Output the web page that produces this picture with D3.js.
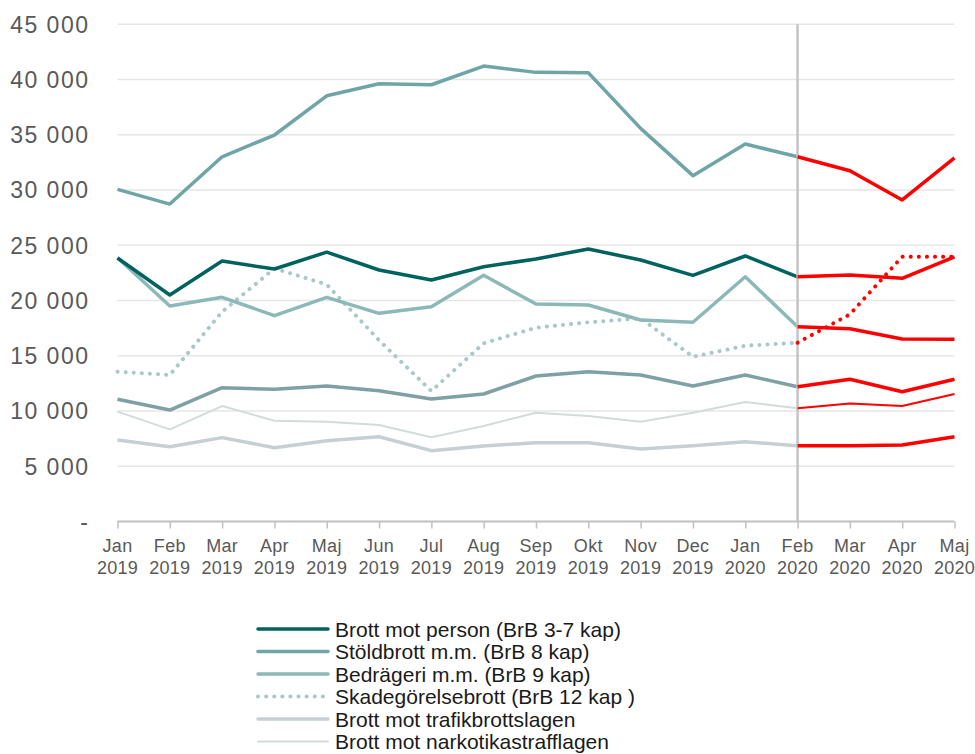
<!DOCTYPE html>
<html>
<head>
<meta charset="utf-8">
<script src="https://cdn.jsdelivr.net/npm/d3@7"></script>
<style>
  html, body { margin: 0; padding: 0; background: #fff; }
  svg { display: block; font-family: "Liberation Sans", Arial, Helvetica, sans-serif; }
</style>
</head>
<body>
<svg id="chart" width="975" height="754"></svg>
<script>
// ---------- DATA ----------
const months = ["Jan 2019","Feb 2019","Mar 2019","Apr 2019","Maj 2019","Jun 2019","Jul 2019","Aug 2019",
                "Sep 2019","Okt 2019","Nov 2019","Dec 2019","Jan 2020","Feb 2020","Mar 2020","Apr 2020","Maj 2020"];
const splitMonth = "Feb 2020";
const yTicks = [0, 5000, 10000, 15000, 20000, 25000, 30000, 35000, 40000, 45000];

const personValues   = [23850,20500,23570,22850,24380,22760,21860,23060,23760,24660,23670,22280,24030,22150,22300,22010,23960];
const stoldValues    = [30060,28730,33010,34980,38530,39620,39530,41220,40650,40620,35580,31300,34160,33010,31750,29100,32920];
const bedrageriValues= [23870,19500,20290,18630,20290,18840,19440,22280,19680,19590,18240,18030,22150,17630,17450,16520,16490];
const skadeValues    = [13560,13260,18990,22900,21450,16400,11810,16130,17540,18030,18390,14910,15910,16180,18750,23960,23960];
const ovrigaValues   = [11060,10090,12110,11960,12260,11840,11090,11540,13170,13560,13260,12260,13260,12200,12870,11750,12870];
const narkValues     = [ 9940, 8340,10450, 9120, 9030, 8730, 7620, 8640, 9850, 9550, 9030, 9850,10810,10240,10690,10450,11540];
const trafikValues   = [ 7380, 6770, 7590, 6680, 7310, 7670, 6410, 6830, 7130, 7130, 6560, 6860, 7220, 6860, 6860, 6920, 7670];

const seriesNames = ["Brott mot person (BrB 3-7 kap)","Stöldbrott m.m. (BrB 8 kap)","Bedrägeri m.m. (BrB 9 kap)",
                     "Skadegörelsebrott (BrB 12 kap )","Brott mot trafikbrottslagen","Brott mot narkotikastrafflagen"];

// ---------- STYLES ----------
const series = [
  {name: null,            values: ovrigaValues,    color: "#7fa0a4", width: 3.5, dotted: false},
  {name: seriesNames[5],  values: narkValues,      color: "#d2dcd9", width: 2,   dotted: false},
  {name: seriesNames[4],  values: trafikValues,    color: "#c6d0d4", width: 3.5, dotted: false},
  {name: seriesNames[3],  values: skadeValues,     color: "#a9c8c8", width: 4,   dotted: true},
  {name: seriesNames[2],  values: bedrageriValues, color: "#8db8b8", width: 3.5, dotted: false},
  {name: seriesNames[1],  values: stoldValues,     color: "#6fa5a7", width: 3.5, dotted: false},
  {name: seriesNames[0],  values: personValues,    color: "#00625f", width: 3.5, dotted: false}
];
const legendOrder = [6,5,4,3,2,1];

const svg = d3.select("#chart");
const x = d3.scalePoint().domain(months).range([117.5, 954.5]);
const y = d3.scaleLinear().domain([0, 45000]).range([521.5, 24.3]);

// gridlines
svg.append("g").selectAll("line").data(yTicks.filter(d => d > 0)).join("line")
  .attr("x1", x(months[0])).attr("x2", x(months[months.length-1]))
  .attr("y1", d => y(d)).attr("y2", d => y(d))
  .attr("stroke", "#e6e6e6").attr("stroke-width", 1.5);

// y labels
svg.append("g").selectAll("text").data(yTicks).join("text")
  .attr("x", 89.5).attr("y", d => y(d)).attr("dy", "0.36em")
  .attr("text-anchor", "end")
  .attr("font-size", 23).attr("letter-spacing", 1.5)
  .attr("fill", "#595959")
  .text(d => d === 0 ? "-" : d3.format(",")(d).replace(/,/g, " "));

// x axis
const xAxis = d3.axisBottom(x).tickSize(7).tickFormat("");
const gx = svg.append("g").attr("transform", `translate(0,${y(0)})`).call(xAxis);
gx.select(".domain").attr("stroke", "#c0c0c0").attr("stroke-width", 2)
  .attr("d", `M${x(months[0])},0H${x(months[months.length-1])}`);
gx.selectAll(".tick line").attr("stroke", "#c0c0c0").attr("stroke-width", 1.5);

const xl = svg.append("g").selectAll("text").data(months).join("text")
  .attr("text-anchor", "middle").attr("font-size", 18).attr("fill", "#595959")
  .attr("letter-spacing", 0.3);
xl.append("tspan").attr("x", d => x(d)).attr("y", 552).text(d => d.split(" ")[0]);
xl.append("tspan").attr("x", d => x(d)).attr("y", 574).text(d => d.split(" ")[1]);

// lines
const splitIdx = months.indexOf(splitMonth);
const line = d3.line().x(d => x(d.m)).y(d => y(d.v));
function styleLine(sel, s, color) {
  sel.attr("fill", "none").attr("stroke", color).attr("stroke-width", s.width)
    .attr("stroke-linejoin", "round");
  if (s.dotted) sel.attr("stroke-dasharray", "0.1 8").attr("stroke-linecap", "round");
  else sel.attr("stroke-linecap", "butt");
}
const pts = s => s.values.map((v, i) => ({m: months[i], v}));
series.forEach(s => {
  const p = pts(s).slice(0, splitIdx + 1);
  styleLine(svg.append("path").attr("d", line(p)), s, s.color);
});

// vertical divider
svg.append("line")
  .attr("x1", x(splitMonth)).attr("x2", x(splitMonth))
  .attr("y1", y(45000)).attr("y2", y(0))
  .attr("stroke", "#c4c4c4").attr("stroke-width", 2.5);

series.forEach(s => {
  const p = pts(s).slice(splitIdx);
  styleLine(svg.append("path").attr("d", line(p)), s, "#ff0000");
});

// legend
const lg = svg.append("g");
legendOrder.forEach((si, i) => {
  const s = series[si];
  const yy = 629 + i * 22.5;
  const l = lg.append("line").attr("x1", 258).attr("x2", 328).attr("y1", yy).attr("y2", yy);
  styleLine(l, s, s.color);
  if (!s.dotted) l.attr("stroke-linecap", "round");
  lg.append("text").attr("x", 335).attr("y", yy).attr("dy", "0.36em")
    .attr("font-size", 21).attr("fill", "#1a1a1a").text(s.name);
});
</script>
</body>
</html>
